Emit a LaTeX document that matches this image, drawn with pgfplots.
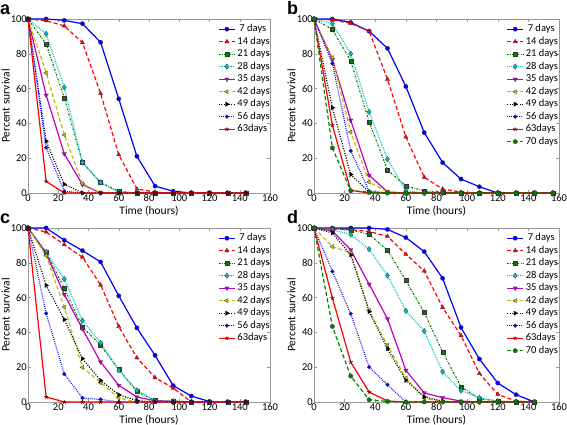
\documentclass[border=0pt]{standalone}
\usepackage{pgfplots}
\pgfplotsset{compat=1.18}
\usepackage{pgfplotstable}
\usepackage{fontspec}
\setmainfont{Carlito}
\newfontfamily\letterfont{Liberation Sans}

\definecolor{mb}{rgb}{0,0,1}
\definecolor{mr}{rgb}{1,0,0}
\definecolor{mg}{rgb}{0,0.5,0}
\definecolor{mc}{rgb}{0,0.75,0.75}
\definecolor{mm}{rgb}{0.75,0,0.75}
\definecolor{my}{rgb}{0.75,0.75,0}

% Panel a
\pgfplotstableread{
t   d7    d14   d21   d28   d35   d42   d49   d56   d63
0   100   100   100   100   100   100   100   100   100
12  100   99    85.6  91.4  56.2  69    29.8  26.1  6.7
24  99.2  96    54.7  60.7  22.5  33.4  5     1     0
36  97.3  86.4  17.5  17.5  4.8   5.4   0     0     0
48  86.6  57.2  6     6     0     0     0     0     0
60  54.1  22    1     0.5   0     0     0     0     0
72  21.1  2.3   0     0     0     0     0     0     0
84  4     0.5   0     0     0     0     0     0     0
96  1     0     0     0     0     0     0     0     0
108 0     0     0     0     0     0     0     0     0
120 0     0     0     0     0     0     0     0     0
132 0     0     0     0     0     0     0     0     0
144 0     0     0     0     0     0     0     0     0
}\ta

% Panel b
\pgfplotstableread{
t   d7    d14   d21   d28   d35   d42   d49   d56   d63   d70
0   100   100   100   100   100   100   100   100   100   100
12  100   99.4  94    97.3  76.8  77.7  49    74.5  39    25.9
24  98    97.5  75.8  80    41.8  35    10.6  24.2  1.5   1.3
36  93    93    40.9  46.6  10.2  6.3   0.6   1     0     0.5
48  83.1  65.3  13.2  19.4  0.6   0.5   0     0     0     0
60  61.2  32.2  4     1.3   0     0     0     0     0     0
72  34.7  9     1.2   0     0     0     0     0     0     0
84  17.5  2.3   0.5   0     0     0     0     0     0     0
96  8     0.5   0     0     0     0     0     0     0     0
108 3.6   0     0     0     0     0     0     0     0     0
120 0     0     0     0     0     0     0     0     0     0
132 0     0     0     0     0     0     0     0     0     0
144 0     0     0     0     0     0     0     0     0     0
156 0     0     0     0     0     0     0     0     0     0
}\tb

% Panel c
\pgfplotstableread{
t   d7    d14   d21   d28   d35   d42   d49   d56   d63
0   100   100   100   100   100   100   100   100   100
12  100   97.7  86.2  86.2  85.3  84.1  67    50.9  2.9
24  93    90.4  65.4  70.7  61.8  54.5  47.4  16.1  0
36  87    83.2  43    46.8  42    19.9  24.9  2.3   0
48  80.5  67.3  32.7  34    23    11.1  12.4  1.5   0
60  61    43.4  18.7  18.2  9.6   2.3   4.2   0     0
72  42.6  25.4  6.1   6.7   2.9   0     0.8   0     0
84  26.8  14    0.8   0.8   0.7   0     0     0     0
96  9.4   8     0.5   0.5   0.3   0     0     0     0
108 3.4   0     0     0     0     0     0     0     0
120 0.3   0     0     0     0     0     0     0     0
132 0     0     0     0     0     0     0     0     0
144 0     0     0     0     0     0     0     0     0
}\tc

% Panel d
\pgfplotstableread{
t   d7    d14   d21   d28   d35   d42   d49   d56   d63   d70
0   100   100   100   100   100   100   100   100   100   100
12  100   99.5  99.5  99    98.3  89.3  97.1  75.1  59.8  43.4
24  100   99    99    96.2  87.4  85.7  84.5  50.7  22.9  14.9
36  100   98    96.3  87.8  67.7  52.6  52    20.1  5.7   1.3
48  99.2  95.2  87.2  72.7  47.8  32.5  30.6  9.9   0.6   0.3
60  94.5  84.9  69.8  52.4  18.2  13.8  12.4  0     0     0
72  86.4  75.3  51.4  40.7  5.2   2.3   2.9   0     0     0
84  71.1  54.3  28.7  17.4  2.5   0     0.5   0     0     0
96  42.8  38.2  8.8   6.5   0.5   0     0     0     0     0
108 24.7  16.4  1.9   2.5   0     0     0     0     0     0
120 10.9  4.4   0.5   0.5   0     0     0     0     0     0
132 4.2   0.5   0     0     0     0     0     0     0     0
144 0     0     0     0     0     0     0     0     0     0
}\td

\pgfplotsset{
  legend image code/.code={\draw[mark repeat=2,mark phase=2,#1] plot coordinates {(0pt,0pt)(8pt,0pt)(16pt,0pt)};},
  mk/.style={mark options={solid, fill=#1, draw=black!80, line width=0.25pt}},
  s7/.style={mb, solid, line width=1.2pt, mark=*, mark size=2.2pt, mk=mb},
  s14/.style={mr, dash pattern=on 4pt off 2.5pt, line width=1.2pt, mark=triangle*, mark size=2.5pt, mk=mr},
  s21/.style={mg, dash pattern=on 1.8pt off 1.4pt on 0.6pt off 1.4pt, line width=1.2pt, mark=square*, mark size=2pt, mk=mg},
  s28/.style={mc, dash pattern=on 0.8pt off 1pt, line width=1.2pt, mark=diamond*, mark size=2.8pt, mk=mc},
  s35/.style={mm, solid, line width=1.2pt, mark=triangle*, mark size=2.5pt, mark options={solid, fill=mm, draw=black!80, line width=0.25pt, rotate=180}},
  s42/.style={my, dash pattern=on 4pt off 2.5pt, line width=1.2pt, mark=triangle*, mark size=2.5pt, mark options={solid, fill=my, draw=black!80, line width=0.25pt, rotate=90}},
  s49/.style={black, dash pattern=on 1pt off 1.5pt, line width=1.2pt, mark=triangle*, mark size=2.5pt, mark options={solid, fill=black, draw=black, line width=0.25pt, rotate=-90}},
  s56/.style={mb, dash pattern=on 0.8pt off 1.2pt, line width=1.2pt, mark=*, mark size=1.9pt, mk=mb},
  s63/.style={mr, solid, line width=1.2pt, mark=star, mark size=2.2pt, mark options={solid, draw=black!60!mr, line width=0.6pt}},
  s70/.style={mg, dash pattern=on 4pt off 2.5pt, line width=1.2pt, mark=*, mark size=2.2pt, mk=mg},
  panel/.style={
    scale only axis, width=242pt, height=174pt,
    xmin=0, xmax=160, ymin=0, ymax=100,
    xtick={0,20,...,160}, ytick={0,20,...,100},
    axis line style={gray!80, line width=0.6pt},
    tick style={gray!80, line width=0.5pt}, major tick length=3pt,
    tick align=inside,
    tick label style={font=\fontsize{10.5}{11}\selectfont, inner sep=1pt},
    /pgf/number format/assume math mode=true,
    xlabel={Time (hours)}, ylabel={Percent survival},
    label style={font=\fontsize{11.5}{12}\selectfont, inner sep=0.5pt},
    xlabel style={at={(axis description cs:0.5,-0.103)}, anchor=center},
    ylabel style={at={(axis description cs:-0.092,0.5)}, anchor=center},
    clip=false,
    legend cell align=left,
    legend style={draw=none, fill=none, at={(rel axis cs:0.773,0.98)}, anchor=north west,
      font=\fontsize{10.5}{11}\selectfont, row sep=3.5pt,
      nodes={inner xsep=2pt, inner ysep=0pt, text height=7pt, text depth=2pt}},
  },
}

\begin{document}
\begin{tikzpicture}
\path[use as bounding box] (0pt,0pt) rectangle (567pt,425pt);

% ---- a ----
\begin{axis}[panel, width=242pt, at={(28pt,232pt)}, anchor=south west]
\addplot[s7]  table[x=t,y=d7]  {\ta}; \addlegendentry{\hspace{2pt}7 days}
\addplot[s14] table[x=t,y=d14] {\ta}; \addlegendentry{14 days}
\addplot[s21] table[x=t,y=d21] {\ta}; \addlegendentry{21 days}
\addplot[s28] table[x=t,y=d28] {\ta}; \addlegendentry{28 days}
\addplot[s35] table[x=t,y=d35] {\ta}; \addlegendentry{35 days}
\addplot[s42] table[x=t,y=d42] {\ta}; \addlegendentry{42 days}
\addplot[s49] table[x=t,y=d49] {\ta}; \addlegendentry{49 days}
\addplot[s56] table[x=t,y=d56] {\ta}; \addlegendentry{56 days}
\addplot[s63] table[x=t,y=d63] {\ta}; \addlegendentry{63days}
\end{axis}

% ---- b ----
\begin{axis}[panel, width=245pt, at={(314pt,232pt)}, anchor=south west]
\addplot[s7]  table[x=t,y=d7]  {\tb}; \addlegendentry{\hspace{2pt}7 days}
\addplot[s14] table[x=t,y=d14] {\tb}; \addlegendentry{14 days}
\addplot[s21] table[x=t,y=d21] {\tb}; \addlegendentry{21 days}
\addplot[s28] table[x=t,y=d28] {\tb}; \addlegendentry{28 days}
\addplot[s35] table[x=t,y=d35] {\tb}; \addlegendentry{35 days}
\addplot[s42] table[x=t,y=d42] {\tb}; \addlegendentry{42 days}
\addplot[s49] table[x=t,y=d49] {\tb}; \addlegendentry{49 days}
\addplot[s56] table[x=t,y=d56] {\tb}; \addlegendentry{56 days}
\addplot[s63] table[x=t,y=d63] {\tb}; \addlegendentry{63days}
\addplot[s70] table[x=t,y=d70] {\tb}; \addlegendentry{70 days}
\end{axis}

% ---- c ----
\begin{axis}[panel, width=242pt, at={(28pt,23pt)}, anchor=south west]
\addplot[s7]  table[x=t,y=d7]  {\tc}; \addlegendentry{\hspace{2pt}7 days}
\addplot[s14] table[x=t,y=d14] {\tc}; \addlegendentry{14 days}
\addplot[s21] table[x=t,y=d21] {\tc}; \addlegendentry{21 days}
\addplot[s28] table[x=t,y=d28] {\tc}; \addlegendentry{28 days}
\addplot[s35] table[x=t,y=d35] {\tc}; \addlegendentry{35 days}
\addplot[s42] table[x=t,y=d42] {\tc}; \addlegendentry{42 days}
\addplot[s49] table[x=t,y=d49] {\tc}; \addlegendentry{49 days}
\addplot[s56] table[x=t,y=d56] {\tc}; \addlegendentry{56 days}
\addplot[s63] table[x=t,y=d63] {\tc}; \addlegendentry{63days}
\end{axis}

% ---- d ----
\begin{axis}[panel, width=245pt, at={(314pt,23pt)}, anchor=south west]
\addplot[s7]  table[x=t,y=d7]  {\td}; \addlegendentry{\hspace{2pt}7 days}
\addplot[s14] table[x=t,y=d14] {\td}; \addlegendentry{14 days}
\addplot[s21] table[x=t,y=d21] {\td}; \addlegendentry{21 days}
\addplot[s28] table[x=t,y=d28] {\td}; \addlegendentry{28 days}
\addplot[s35] table[x=t,y=d35] {\td}; \addlegendentry{35 days}
\addplot[s42] table[x=t,y=d42] {\td}; \addlegendentry{42 days}
\addplot[s49] table[x=t,y=d49] {\td}; \addlegendentry{49 days}
\addplot[s56] table[x=t,y=d56] {\td}; \addlegendentry{56 days}
\addplot[s63] table[x=t,y=d63] {\td}; \addlegendentry{63days}
\addplot[s70] table[x=t,y=d70] {\td}; \addlegendentry{70 days}
\end{axis}

\node[anchor=base west, inner sep=0pt, font=\letterfont\bfseries\fontsize{18}{18}\selectfont] at (0pt,410pt) {a};
\node[anchor=base west, inner sep=0pt, font=\letterfont\bfseries\fontsize{18}{18}\selectfont] at (287pt,410pt) {b};
\node[anchor=base west, inner sep=0pt, font=\letterfont\bfseries\fontsize{18}{18}\selectfont] at (0pt,201pt) {c};
\node[anchor=base west, inner sep=0pt, font=\letterfont\bfseries\fontsize{18}{18}\selectfont] at (287pt,201pt) {d};
\end{tikzpicture}
\end{document}
